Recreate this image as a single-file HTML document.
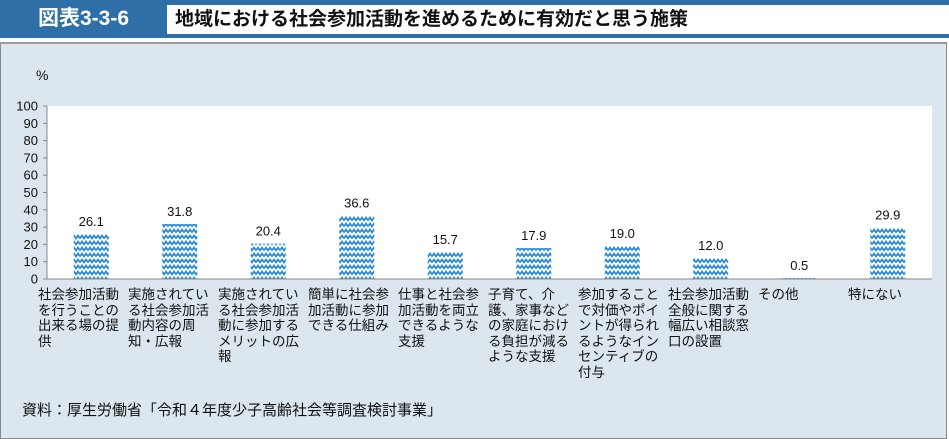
<!DOCTYPE html>
<html lang="ja"><head><meta charset="utf-8">
<style>
html,body{margin:0;padding:0;background:#fff;}
body{width:949px;height:438px;position:relative;overflow:hidden;font-family:"Liberation Sans","Noto Sans CJK JP",sans-serif;}
#hdr{position:absolute;left:0;top:0;width:949px;height:38px;background:#2f6fa7;}
#fig{position:absolute;left:0;top:0;width:163px;height:38px;color:#fff;font-size:21px;font-weight:bold;line-height:38px;text-align:center;padding-left:4px;box-sizing:border-box;}
#title{position:absolute;left:165px;top:3px;width:778px;height:29px;background:#fff;border:2px solid #2f6fa7;border-right-width:3px;font-size:19px;font-weight:bold;line-height:29px;padding-left:8px;box-sizing:content-box;color:#111;}
#panel{position:absolute;left:0;top:42px;width:945px;height:394px;background:#dbe6ee;border:1px solid #8a8a8a;border-top:2px solid #9a9a9a;}
svg{position:absolute;left:0;top:0;}
.cat{position:absolute;top:287px;font-size:13.5px;line-height:15.6px;color:#111;white-space:pre;}
#src{position:absolute;left:22px;top:399px;font-size:15px;color:#111;}
</style></head><body>
<div id="hdr"></div>
<div id="fig">図表3-3-6</div>
<div id="title">地域における社会参加活動を進めるために有効だと思う施策</div>
<div id="panel"></div>
<svg id="chart" width="949" height="438">
<defs>
<pattern id="wave" patternUnits="userSpaceOnUse" width="8" height="6">
<rect width="8" height="6" fill="#ffffff"/>
<path d="M0,4.5 L2,1.5 L4,4.5 L6,1.5 L8,4.5" fill="none" stroke="#1f86d6" stroke-width="1.6"/>
</pattern>
</defs>
</svg>
<div id="cats"></div>
<div id="src">資料：厚生労働省「令和４年度少子高齢社会等調査検討事業」</div>
<script>
const categories=["社会参加活動\nを行うことの\n出来る場の提\n供","実施されてい\nる社会参加活\n動内容の周\n知・広報","実施されてい\nる社会参加活\n動に参加する\nメリットの広\n報","簡単に社会参\n加活動に参加\nできる仕組み","仕事と社会参\n加活動を両立\nできるような\n支援","子育て、介\n護、家事など\nの家庭におけ\nる負担が減る\nような支援","参加すること\nで対価やポイ\nントが得られ\nるようなイン\nセンティブの\n付与","社会参加活動\n全般に関する\n幅広い相談窓\n口の設置","その他","特にない"];
const values=[26.1,31.8,20.4,36.6,15.7,17.9,19.0,12.0,0.5,29.9];
const yTicks=[0,10,20,30,40,50,60,70,80,90,100];
const NS="http://www.w3.org/2000/svg";
const svg=document.getElementById('chart');
const X0=47,X1=932,Y0=279,Y1=106;
const band=(X1-X0)/categories.length;
const y=v=>Y0-(v/100)*(Y0-Y1);
const xc=i=>X0+band*(i+0.5);
function mk(t,a){const e=document.createElementNS(NS,t);for(const k in a)e.setAttribute(k,a[k]);svg.appendChild(e);return e;}
const plot=mk('rect',{x:X0,y:Y1,width:X1-X0,height:Y0-Y1,fill:'#fff'});


const pct=mk('text',{x:36,y:80,'font-size':14,fill:'#111'});pct.textContent='%';


yTicks.forEach(t=>{
 const ty=y(t);
 mk('line',{x1:43,x2:X0,y1:ty,y2:ty,stroke:'#888','stroke-width':1});
 const tx=mk('text',{x:38,y:ty+4.5,'font-size':13,'text-anchor':'end',fill:'#111'});
 tx.textContent=t;
 
 
});
mk('line',{x1:X0,x2:X0,y1:Y1,y2:Y0,stroke:'#888','stroke-width':1});
values.forEach((v,i)=>{
 const bw=35;
 const r=mk('rect',{x:xc(i)-bw/2,y:y(v),width:bw,height:Y0-y(v),fill:'url(#wave)'});
 
 
 const l=mk('text',{x:xc(i),y:y(v)-8,'font-size':13,'text-anchor':'middle',fill:'#111','font-weight':'500'});
 l.textContent=v.toFixed(1);
 
 
});
mk('line',{x1:X0,x2:X1,y1:Y0,y2:Y0,stroke:'#888','stroke-width':1});
const cats=document.getElementById('cats');
categories.forEach((c,i)=>{
 const d=document.createElement('div');
 d.className='cat';
 d.style.left=(38+i*90)+'px';
 d.textContent=c;
 
 
 cats.appendChild(d);
});
</script>
</body></html>
